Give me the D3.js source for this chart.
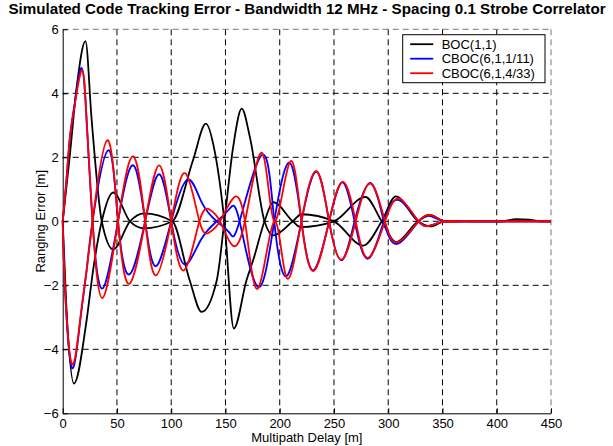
<!DOCTYPE html>
<html>
<head>
<meta charset="utf-8">
<script src="https://cdn.jsdelivr.net/npm/d3@7"></script>
<style>
  body { margin: 0; background: #fff; }
  text { font-family: "Liberation Sans", Arial, sans-serif; }
</style>
</head>
<body>
<div id="chart-area"></div>
<script>
const margin = {top: 29.3, right: 62, bottom: 32.7, left: 62.7};
const width = 613, height = 446;

const titleText = "Simulated Code Tracking Error - Bandwidth 12 MHz - Spacing 0.1 Strobe Correlator";
const xLabel = "Multipath Delay [m]";
const yLabel = "Ranging Error [m]";
const xTicks = [0, 50, 100, 150, 200, 250, 300, 350, 400, 450];
const yTicks = [-6, -4, -2, 0, 2, 4, 6];
const seriesNames = ["BOC(1,1)", "CBOC(6,1,1/11)", "CBOC(6,1,4/33)"];
const colors = ["#000000", "#0000ff", "#ff0000"];

// [delay m, error m]; each modulation has two curves
const boc1 = [[0,0],[6.7,2.1],[12.9,4.2],[21,5.63],[26.7,3.16],[36,0],[46.6,-0.88],[62,0],
  [75,0.25],[101,0],[117,-1.84],[128,-2.83],[142,-1.84],[149,0],[157,2.3],[165,3.52],
  [172.5,2.63],[186,0],[194,-0.44],[212,0],[220,0.22],[250,0],[277,-0.76],[294,0],
  [307,0.78],[327.5,0],[339,-0.16],[352,0],[405,0],[418,0.07],[430,0.05],[440,0],[450,0]];
const boc2 = [[0,0],[3,-2.4],[10.4,-5.07],[22,-3.1],[28,-1.53],[36,0],[46.6,0.9],[62,0],
  [75,-0.22],[101,0],[120,1.9],[132,3.05],[140,2.2],[149,0],[157.7,-3.35],[169.4,-1.84],
  [175.5,-1.22],[186,0],[194,0.6],[212,0],[219,-0.18],[250,0],[279,0.76],[294,0],
  [307,-0.65],[327.5,0],[339,0.19],[352,0],[405,0],[418,0.03],[430,0.02],[440,0],[450,0]];

const cboc11a = [[0,0],[3.7,1.4],[6.7,2.65],[11.3,3.75],[17.5,4.79],[22,3.2],[27.5,0],
  [36.5,-2.1],[51,0],[65,1.75],[76,0],[86,-1.4],[100,0],[115,1.3],[128,0.6],[142,0],[154,-0.37],
  [163,0],[184,2.08],[195,0],[206,-1.72],[220,0],[234,1.55],[245.5,0],[257,-1.22],
  [269,0],[283.6,1.2],[296,0],[309,-0.7],[328,0],[340,0.15],[352,0],[365,0],[380,0],
  [395,0],[410,0],[425,0],[440,0],[450,0]];
const cboc11b = [[0,0],[2.1,-2.1],[8.3,-4.57],[16,-3.15],[22,-1.55],[27.5,0],[42,2.22],
  [51,0],[61.4,-1.66],[76,0],[89,1.47],[100,0],[112,-1.34],[127,-0.6],[142,0],[154,0.4],[163,0],
  [180,-2.05],[195,0],[209,1.83],[220,0],[231,-1.53],[245.5,0],[258,1.22],[269,0],
  [281.4,-1.17],[296,0],[310,0.66],[328,0],[340,-0.12],[352,0],[365,0],[380,0],
  [395,0],[410,0],[425,0],[440,0],[450,0]];

const cboc433a = [[0,0],[3.7,1.38],[6.7,2.63],[11.3,3.68],[18,4.72],[22,3.16],[27.5,0],
  [36.5,-2.4],[51,0],[65,2.03],[76,0],[86,-1.69],[100,0],[113,1.5],[126,0],[135,-0.35],
  [145,0],[157,0.72],[168,0],[180,-2.1],[195,0],[206.3,-1.76],[220,0],[234,1.57],
  [245.5,0],[257,-1.2],[270,0],[283.6,1.18],[297,0],[309,-0.65],[328,0],[340,0.19],
  [352,0],[365,0],[380,0],[395,0],[410,0],[425,0],[440,0],[450,0]];
const cboc433b = [[0,0],[2.1,-2.05],[8.3,-4.45],[16,-3.1],[22,-1.53],[27.5,0],[41,2.53],
  [51,0],[61.4,-1.95],[76,0],[89,1.75],[100,0],[112,-1.53],[126,0],[135.6,0.36],[145,0],
  [155.6,-0.72],[168,0],[184,2.13],[195,0],[209.3,1.85],[220,0],[231.4,-1.55],[245.5,0],
  [258.4,1.23],[270,0],[281.4,-1.14],[297,0],[310.6,0.71],[328,0],[340,-0.12],[352,0],
  [365,0],[380,0],[395,0],[410,0],[425,0],[440,0],[450,0]];

// BOC curves have sharp changes, monotone keeps them from ringing
const curves = [
  {data: boc1, color: colors[0], curve: d3.curveMonotoneX},
  {data: boc2, color: colors[0], curve: d3.curveMonotoneX},
  {data: cboc11a, color: colors[1], curve: d3.curveNatural},
  {data: cboc11b, color: colors[1], curve: d3.curveNatural},
  {data: cboc433a, color: colors[2], curve: d3.curveNatural},
  {data: cboc433b, color: colors[2], curve: d3.curveNatural}
];

var svg = d3.select("#chart-area").append("svg")
    .attr("width", width)
    .attr("height", height);

var x = d3.scaleLinear().domain([0, 450]).range([margin.left, width - margin.right]);
var y = d3.scaleLinear().domain([-6, 6]).range([height - margin.bottom, margin.top]);

// grid
var grid = svg.append("g");
grid.selectAll("line.vg")
    .data(xTicks.slice(1, -1))
    .enter().append("line")
    .attr("x1", d => x(d)).attr("x2", d => x(d))
    .attr("y1", y(6)).attr("y2", y(-6))
    .attr("stroke", "#000").attr("stroke-dasharray", "6,4");
grid.selectAll("line.hg")
    .data(yTicks.slice(1, -1))
    .enter().append("line")
    .attr("x1", x(0)).attr("x2", x(450))
    .attr("y1", d => y(d)).attr("y2", d => y(d))
    .attr("stroke", "#000").attr("stroke-dasharray", "6,4");

// top and right edges are dashed too
grid.append("line")
    .attr("x1", x(0)).attr("x2", x(450)).attr("y1", y(6)).attr("y2", y(6))
    .attr("stroke", "#777").attr("stroke-dasharray", "6,4");
grid.append("line")
    .attr("x1", x(450)).attr("x2", x(450)).attr("y1", y(6)).attr("y2", y(-6))
    .attr("stroke", "#777").attr("stroke-dasharray", "6,4");

// axes
var xAxis = svg.append("g")
    .attr("transform", "translate(0," + y(-6) + ")")
    .call(d3.axisBottom(x).tickValues(xTicks).tickSizeInner(-5).tickSizeOuter(0).tickPadding(5));
var yAxis = svg.append("g")
    .attr("transform", "translate(" + x(0) + ",0)")
    .call(d3.axisLeft(y).tickValues(yTicks).tickSizeInner(-5).tickSizeOuter(0).tickPadding(4));

svg.selectAll(".tick text")
    .attr("font-family", "Liberation Sans, Arial, sans-serif")
    .attr("font-size", 13)
    .attr("fill", "#000");
svg.selectAll(".domain, .tick line").attr("stroke", "#000");

// curves
svg.append("g").selectAll("path")
    .data(curves)
    .enter().append("path")
    .attr("d", d => d3.line()
        .x(p => x(p[0]))
        .y(p => y(p[1]))
        .curve(d.curve)(d.data))
    .attr("fill", "none")
    .attr("stroke", d => d.color)
    .attr("stroke-width", 1.8)
    .attr("stroke-linejoin", "round");

// labels
var title = svg.append("text")
    .attr("x", 307).attr("y", 14)
    .attr("text-anchor", "middle")
    .attr("font-weight", "bold")
    .attr("font-size", 13)
    .text(titleText);
var tw = title.node().getComputedTextLength();
title.attr("font-size", 13 * 598 / tw);

svg.append("text")
    .attr("x", (x(0) + x(450)) / 2).attr("y", 442)
    .attr("text-anchor", "middle")
    .attr("font-size", 13)
    .text(xLabel);

svg.append("text")
    .attr("transform", "translate(45," + y(0) + ") rotate(-90)")
    .attr("text-anchor", "middle")
    .attr("font-size", 13)
    .text(yLabel);

// legend
var legend = svg.append("g").attr("transform", "translate(402.7,34.7)");
legend.append("rect")
    .attr("width", 142.3).attr("height", 48)
    .attr("fill", "#fff").attr("stroke", "#000");
var rows = legend.selectAll("g.row")
    .data(seriesNames)
    .enter().append("g")
    .attr("transform", (d, i) => "translate(0," + (9.5 + 14.5 * i) + ")");
rows.append("line")
    .attr("x1", 7.5).attr("x2", 30.5)
    .attr("stroke", (d, i) => colors[i])
    .attr("stroke-width", 1.8);
rows.append("text")
    .attr("x", 39)
    .attr("dy", "0.35em")
    .attr("font-size", 13)
    .text(d => d);
</script>
</body>
</html>
